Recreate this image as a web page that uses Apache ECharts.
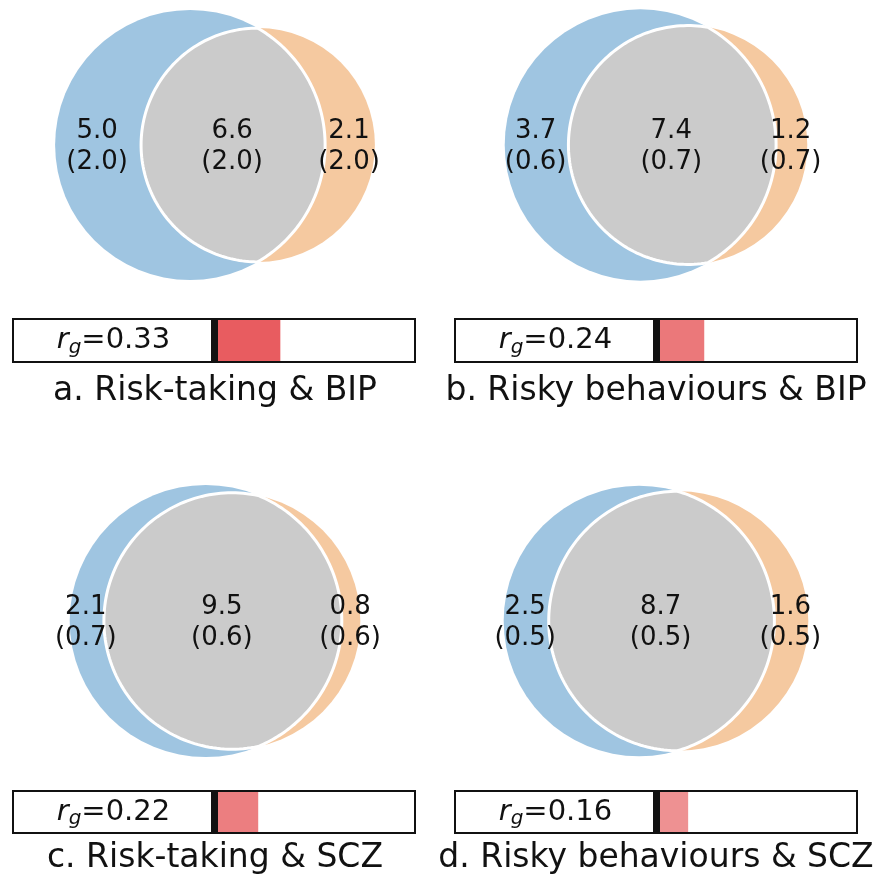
<!DOCTYPE html>
<html>
<head>
<meta charset="utf-8">
<script src="https://cdn.jsdelivr.net/npm/echarts@6/dist/echarts.min.js"></script>
<style>
  html, body { margin: 0; padding: 0; background: #ffffff; }
  #chart { width: 877px; height: 876px; }
</style>
</head>
<body>
<div id="chart"></div>
<script>
// Heritability partition (%) for each trait / disorder pair, with standard errors
const captions = [
  'a. Risk-taking & BIP',
  'b. Risky behaviours & BIP',
  'c. Risk-taking & SCZ',
  'd. Risky behaviours & SCZ'
];
const traitOnly      = [5.0, 3.7, 2.1, 2.5];
const traitOnlySE    = [2.0, 0.6, 0.7, 0.5];
const sharedPart     = [6.6, 7.4, 9.5, 8.7];
const sharedPartSE   = [2.0, 0.7, 0.6, 0.5];
const disorderOnly   = [2.1, 1.2, 0.8, 1.6];
const disorderOnlySE = [2.0, 0.7, 0.6, 0.5];
// genetic correlations
const rgValues = [0.33, 0.24, 0.22, 0.16];

// ---- layout ----
const colCenters = [215, 656];
const rowCenters = [145, 621];
const vennFitHeight = 322;   // height the diagram (plus 0.1 margin) is fitted to
const vennWidth = 430;
const barLefts = [13, 455];
const barTops = [319, 791];
const barWidthPx = 402;
const barHeights = [43, 42];
const captionMid = [391, 858];

const FONT = '"DejaVu Sans", "Liberation Sans", sans-serif';
const COLOR_A = '#9fc5e1';
const COLOR_B = '#f5c9a0';
const COLOR_AB = '#cbcbcb';
const TEXT = '#111111';

// Area of the overlap of two circles with radii r1, r2 and centre distance d
function lensArea(r1, r2, d) {
  if (d >= r1 + r2) return 0;
  if (d <= Math.abs(r1 - r2)) return Math.PI * Math.min(r1, r2) ** 2;
  const a1 = Math.acos((d * d + r1 * r1 - r2 * r2) / (2 * d * r1));
  const a2 = Math.acos((d * d + r2 * r2 - r1 * r1) / (2 * d * r2));
  return r1 * r1 * (a1 - Math.sin(a1) * Math.cos(a1)) +
         r2 * r2 * (a2 - Math.sin(a2) * Math.cos(a2));
}

// Area-proportional two-circle layout, areas normalised to a unit union
function vennGeometry(onlyA, both, onlyB) {
  const total = onlyA + both + onlyB;
  const areaA = (onlyA + both) / total;
  const areaB = (onlyB + both) / total;
  const areaAB = both / total;
  const rA = Math.sqrt(areaA / Math.PI);
  const rB = Math.sqrt(areaB / Math.PI);
  let lo = Math.abs(rA - rB), hi = rA + rB;
  for (let i = 0; i < 200; i++) {
    const mid = (lo + hi) / 2;
    if (lensArea(rA, rB, mid) > areaAB) lo = mid; else hi = mid;
  }
  return { rA: rA, rB: rB, d: (lo + hi) / 2 };
}

const grids = [];
const xAxes = [];
const yAxes = [];
const series = [];
const titles = [];
const barSeriesIdx = [];

for (let i = 0; i < 4; i++) {
  const col = i % 2, row = Math.floor(i / 2);
  const g = vennGeometry(traitOnly[i], sharedPart[i], disorderOnly[i]);
  const rMax = Math.max(g.rA, g.rB);
  const scale = vennFitHeight / (2 * (rMax + 0.1));
  const yHalf = rMax + 0.03;
  const gridH = 2 * yHalf * scale;
  const xLo = Math.min(-g.rA, g.d - g.rB), xHi = Math.max(g.rA, g.d + g.rB);
  const xMid = (xLo + xHi) / 2;
  const xHalf = vennWidth / 2 / scale;

  // Venn grid (equal scale on both axes)
  const vg = grids.length;
  grids.push({
    left: colCenters[col] - vennWidth / 2,
    top: rowCenters[row] - gridH / 2,
    width: vennWidth,
    height: gridH,
    outerBoundsMode: 'none',
    containLabel: false,
    show: false
  });
  xAxes.push({ gridIndex: vg, type: 'value', min: xMid - xHalf, max: xMid + xHalf, show: false });
  yAxes.push({ gridIndex: vg, type: 'value', min: -yHalf, max: yHalf, show: false });

  const fmt = (v, se) => v.toFixed(1) + '\n(' + se.toFixed(1) + ')';
  const labels = [
    fmt(traitOnly[i], traitOnlySE[i]),
    fmt(sharedPart[i], sharedPartSE[i]),
    fmt(disorderOnly[i], disorderOnlySE[i])
  ];

  series.push({
    type: 'custom',
    xAxisIndex: vg,
    yAxisIndex: vg,
    silent: true,
    data: [[traitOnly[i], sharedPart[i], disorderOnly[i]]],
    renderItem: function (params, api) {
      const geo = vennGeometry(api.value(0), api.value(1), api.value(2));
      const rA = geo.rA, rB = geo.rB, d = geo.d;
      const px = (x, y) => api.coord([x, y]);
      const unit = api.size([1, 0])[0];
      const cA = px(0, 0), cB = px(d, 0);

      // intersection points of the two circles
      const xc = (d * d + rA * rA - rB * rB) / (2 * d);
      const yc = Math.sqrt(Math.max(0, rA * rA - xc * xc));
      const tA = Math.atan2(yc, xc);
      const tB = Math.atan2(yc, xc - d);
      const N = 120;
      const lens = [];
      for (let j = 0; j <= N; j++) {
        const t = -tA + 2 * tA * j / N;
        lens.push(px(rA * Math.cos(t), rA * Math.sin(t)));
      }
      for (let j = 1; j < N; j++) {
        const t = tB + (2 * Math.PI - 2 * tB) * j / N;
        lens.push(px(d + rB * Math.cos(t), rB * Math.sin(t)));
      }

      const labA = px((-rA + d - rB) / 2, 0);
      const labAB = px((d - rB + rA) / 2, 0);
      const labB = px((rA + d + rB) / 2, 0);
      const textStyle = (p, s) => ({
        x: p[0] - 1, y: p[1] + 2, text: s, fill: TEXT,
        fontSize: 26, fontFamily: FONT,
        align: 'center', verticalAlign: 'middle', lineHeight: 31
      });

      return {
        type: 'group',
        children: [
          { type: 'circle', shape: { cx: cA[0], cy: cA[1], r: rA * unit }, style: { fill: COLOR_A } },
          { type: 'circle', shape: { cx: cB[0], cy: cB[1], r: rB * unit }, style: { fill: COLOR_B } },
          { type: 'polygon', shape: { points: lens },
            style: { fill: COLOR_AB, stroke: '#ffffff', lineWidth: 3, lineJoin: 'miter', miterLimit: 10 } },
          { type: 'text', style: textStyle(labA, labels[0]) },
          { type: 'text', style: textStyle(labAB, labels[1]) },
          { type: 'text', style: textStyle(labB, labels[2]) }
        ]
      };
    }
  });

  // Genetic-correlation bar
  const bg = grids.length;
  grids.push({
    left: barLefts[col],
    top: barTops[row],
    width: barWidthPx,
    height: barHeights[row],
    outerBoundsMode: 'none',
    containLabel: false,
    show: true,
    backgroundColor: '#ffffff',
    borderColor: '#111111',
    borderWidth: 2
  });
  xAxes.push({ gridIndex: bg, type: 'value', min: -1, max: 1, show: false });
  yAxes.push({ gridIndex: bg, type: 'category', data: ['rg'], show: false });

  barSeriesIdx.push(series.length);
  series.push({
    type: 'bar',
    xAxisIndex: bg,
    yAxisIndex: bg,
    silent: true,
    barWidth: barHeights[row] - 2,
    data: [[rgValues[i], 0]],
    markLine: {
      silent: true,
      symbol: 'none',
      label: { show: false },
      lineStyle: { color: '#111111', width: 7, type: 'solid' },
      data: [{ xAxis: 0 }]
    }
  });

  const rg = rgValues[i];
  series.push({
    type: 'scatter',
    xAxisIndex: bg,
    yAxisIndex: bg,
    silent: true,
    symbolSize: 1,
    itemStyle: { color: 'transparent', opacity: 1 },
    data: [[-0.5, 0]],
    label: {
      show: true,
      position: 'inside',
      color: TEXT,
      textBorderWidth: 0,
      opacity: 1,
      formatter: '{r|r}{g|g}{v|=' + rg.toFixed(2) + '}',
      rich: {
        r: { fontFamily: FONT, fontSize: 29, fontStyle: 'italic', color: TEXT, lineHeight: 34, textBorderWidth: 0 },
        g: { fontFamily: FONT, fontSize: 20, fontStyle: 'italic', color: TEXT, lineHeight: 18, verticalAlign: 'bottom', textBorderWidth: 0 },
        v: { fontFamily: FONT, fontSize: 29, color: TEXT, lineHeight: 34, textBorderWidth: 0 }
      }
    }
  });

  titles.push({
    text: captions[i],
    left: colCenters[col],
    textAlign: 'center',
    top: captionMid[row] - 19,
    padding: 0,
    textStyle: { fontFamily: FONT, fontSize: 33, fontWeight: 'normal', color: TEXT, lineHeight: 38 }
  });
}

const chart = echarts.init(document.getElementById('chart'), null, { renderer: 'canvas' });
chart.setOption({
  backgroundColor: '#ffffff',
  animation: false,
  title: titles,
  grid: grids,
  xAxis: xAxes,
  yAxis: yAxes,
  visualMap: {
    show: false,
    type: 'continuous',
    min: 0.1,
    max: 0.4,
    dimension: 0,
    seriesIndex: barSeriesIdx,
    inRange: { color: ['#f0a4a4', '#e6464b'] }
  },
  series: series
});
</script>
</body>
</html>
